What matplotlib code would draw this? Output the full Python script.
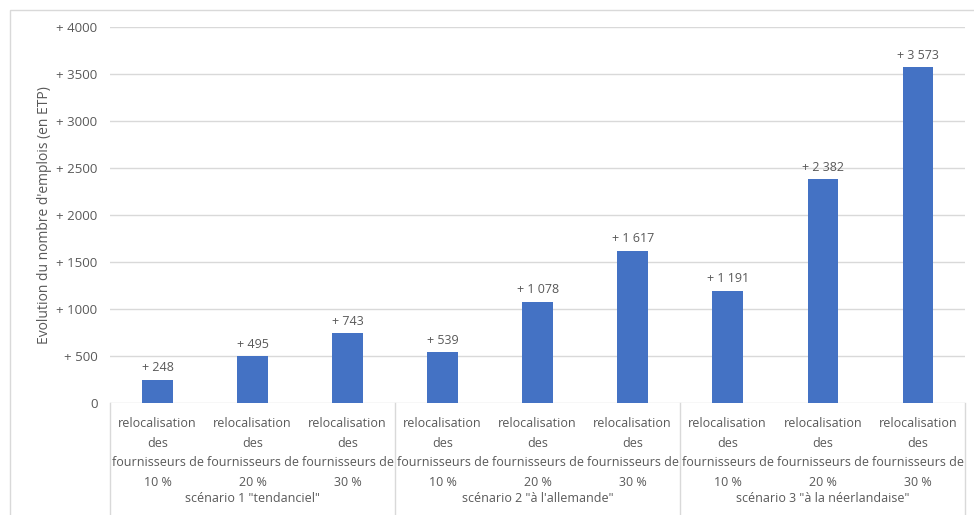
import matplotlib.pyplot as plt
from matplotlib.patches import Rectangle

# Values
scenarios = ['scénario 1 "tendanciel"', 'scénario 2 "à l\'allemande"',
             'scénario 3 "à la néerlandaise"']
shares = ["10 %", "20 %", "30 %"]
jobs = [248, 495, 743, 539, 1078, 1617, 1191, 2382, 3573]
yticks = [0, 500, 1000, 1500, 2000, 2500, 3000, 3500, 4000]

GREY = "#595959"
BLUE = "#4472C4"
LINE = "#d9d9d9"

plt.rcParams["font.family"] = ["Open Sans", "DejaVu Sans"]


def fmt_label(v):
    return "+ " + f"{v:,}".replace(",", " ")


def main():
    fig = plt.figure(figsize=(9.74, 5.15), dpi=100)
    ax = fig.add_axes([0.113, 0.2175, 0.878, 0.730])

    # outer chart border
    fig.patches.append(Rectangle((10 / 974, -0.1), 1.0, 1.0 - 10 / 515 + 0.1,
                                 transform=fig.transFigure, fill=False,
                                 edgecolor=LINE, lw=1))

    x = list(range(len(jobs)))
    bars = ax.bar(x, jobs, width=0.32, color=BLUE, zorder=3)
    for b, v in zip(bars, jobs):
        ax.annotate(fmt_label(v), (b.get_x() + b.get_width() / 2, v),
                    xytext=(0, 4), textcoords="offset points",
                    ha="center", va="bottom", fontsize=9, color=GREY)

    ax.set_xlim(-0.5, len(jobs) - 0.5)
    ax.set_ylim(0, 4000)
    ax.set_yticks(yticks)
    ax.set_yticklabels(["0" if t == 0 else f"+ {t}" for t in yticks])
    ax.tick_params(axis="y", length=0, pad=9, labelsize=9.5, labelcolor=GREY)
    ax.grid(axis="y", color=LINE, lw=1, zorder=0)
    for s in ax.spines.values():
        s.set_visible(False)
    ax.set_ylabel("Evolution du nombre d'emplois (en ETP)", fontsize=10,
                  color=GREY, labelpad=3)

    # category labels
    ax.set_xticks(x)
    ax.set_xticklabels(["relocalisation\ndes\nfournisseurs de\n" + shares[i % 3]
                        for i in x], linespacing=1.68)
    ax.tick_params(axis="x", length=0, pad=10, labelsize=9, labelcolor=GREY)

    # scenario group labels and separators
    trans = ax.get_xaxis_transform()
    for k, name in enumerate(scenarios):
        ax.text(3 * k + 1, -0.255, name, transform=trans, ha="center",
                va="center", fontsize=9, color=GREY)
    for xs in [-0.5, 2.5, 5.5, 8.5]:
        ax.plot([xs, xs], [0, -0.4], transform=trans, color=LINE, lw=1,
                clip_on=False)

    fig.savefig("out.png", dpi=100)


if __name__ == "__main__":
    main()
